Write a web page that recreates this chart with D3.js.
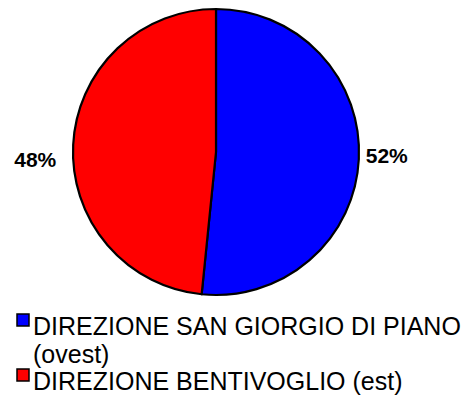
<!DOCTYPE html>
<html><head><meta charset="utf-8">
<script src="https://cdn.jsdelivr.net/npm/d3@7"></script>
<style>html,body{margin:0;padding:0;background:#fff;}svg{display:block;}</style>
</head><body>
<svg id="chart" width="470" height="397"></svg>
<script>
const categories = ["DIREZIONE SAN GIORGIO DI PIANO (ovest)", "DIREZIONE BENTIVOGLIO (est)"];
const legendLines = [["DIREZIONE SAN GIORGIO DI PIANO", "(ovest)"], ["DIREZIONE BENTIVOGLIO (est)"]];
const values = [51.6, 48.4];
const labels = ["52%", "48%"];
const colors = ["#0000FF", "#FF0000"];

const svg = d3.select("#chart");
const cx = 216, cy = 152, r = 143;
const pie = d3.pie().sort(null).value(d => d);
const arcs = pie(values);
const arc = d3.arc().innerRadius(0).outerRadius(r);
const g = svg.append("g").attr("transform", `translate(${cx},${cy})`);
g.selectAll("path").data(arcs).enter().append("path")
  .attr("d", arc)
  .attr("fill", (d, i) => colors[i])
  .attr("stroke", "#000")
  .attr("stroke-width", 2.2)
  .attr("stroke-linejoin", "round");

const labelArc = d3.arc().innerRadius(r + 28).outerRadius(r + 28);
const dxTweak = [0, -10];
const dyTweak = [-5, 16];
g.selectAll("text.lbl").data(arcs).enter().append("text")
  .attr("class", "lbl")
  .attr("x", (d, i) => labelArc.centroid(d)[0] + dxTweak[i])
  .attr("y", (d, i) => labelArc.centroid(d)[1] + dyTweak[i])
  .attr("text-anchor", "middle")
  .attr("dominant-baseline", "central")
  .style("font-family", "Liberation Sans, Arial, sans-serif")
  .style("font-weight", "bold")
  .style("font-size", "21px")
  .text((d, i) => labels[i]);

const lg = svg.append("g");
const lineH = 27.5;
let lineIdx = 0;
legendLines.forEach((lines, i) => {
  const baseY = 335 + lineIdx * lineH;
  lg.append("rect")
    .attr("x", 17).attr("y", baseY - 21)
    .attr("width", 12).attr("height", 12)
    .attr("fill", colors[i]).attr("stroke", "#000").attr("stroke-width", 1.5);
  lines.forEach((t, j) => {
    lg.append("text")
      .attr("x", 33).attr("y", baseY + j * lineH)
      .style("font-family", "Liberation Sans, Arial, sans-serif")
      .style("font-size", "25px")
      .attr("fill", "#000")
      .text(t);
  });
  lineIdx += lines.length;
});
</script>
</body></html>
